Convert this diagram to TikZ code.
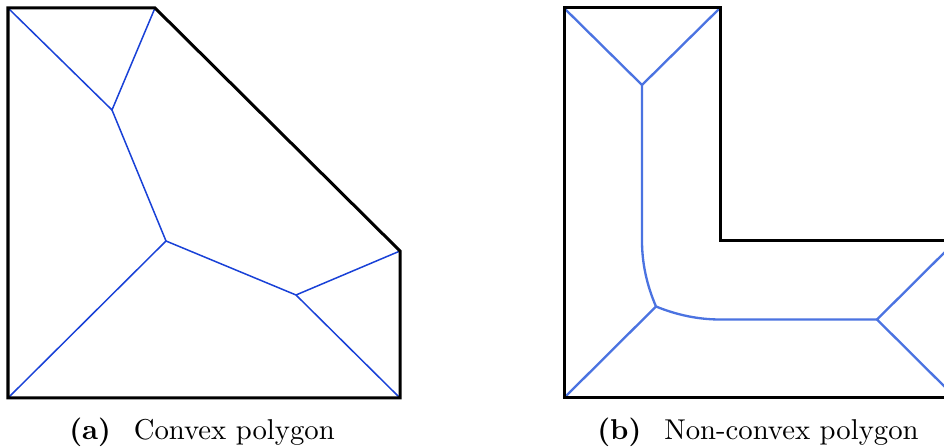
\documentclass[tikz,border=0pt]{standalone}
\usepackage{tikz}
\usetikzlibrary{calc}
\definecolor{skelblue}{RGB}{25,65,215}
\definecolor{skelsoft}{RGB}{75,115,225}
\tikzset{
  boundary/.style={draw=black,line width=1.1pt,line join=miter},
  skelA/.style={draw=skelblue,line width=0.55pt},
  skelB/.style={draw=skelsoft,line width=0.85pt},
  capnode/.style={anchor=base,font=\fontsize{10.5}{12}\selectfont,inner sep=0pt}
}

\begin{document}
\begin{tikzpicture}[x=0.366pt,y=-0.366pt]
  \useasboundingbox (0,0) rectangle (944,448);

  %% (a) CONVEX POLYGON
  \coordinate (a1) at (8,8);
  \coordinate (a2) at (155,8);
  \coordinate (a3) at (400,251);
  \coordinate (a4) at (400,398);
  \coordinate (a5) at (8,398);
  \coordinate (ja) at (112,110);
  \coordinate (jb) at (166,241);
  \coordinate (jc) at (296,295);

  \draw[skelA] (a1) -- (ja) -- (a2);
  \draw[skelA] (ja) -- (jb) -- (a5);
  \draw[skelA] (jb) -- (jc) -- (a3);
  \draw[skelA] (jc) -- (a4);
  \draw[boundary] (a1) -- (a2) -- (a3) -- (a4) -- (a5) -- cycle;

  \node[capnode] (capa) at (202,440) {\textbf{(a)}\hspace{0.8em}Convex polygon};

  %% (b) NON-CONVEX POLYGON
  \begin{scope}
    \clip (0,0) rectangle (944,448);
    \coordinate (b1) at (564,8);
    \coordinate (b2) at (720,8);
    \coordinate (b3) at (720,241);
    \coordinate (b4) at (956,241);
    \coordinate (b5) at (956,398);
    \coordinate (b6) at (564,398);
    \coordinate (ka) at (642,85);
    \coordinate (kb) at (642,241);
    \coordinate (kc) at (656,306.5);
    \coordinate (kd) at (720,319.5);
    \coordinate (ke) at (877,319.5);

    \draw[skelB] (b1) -- (ka) -- (b2);
    \draw[skelB] (ka) -- (kb)
      .. controls (642,263) and (646.7,285) .. (kc)
      .. controls (677.3,315.2) and (698.7,319.5) .. (kd) -- (ke);
    \draw[skelB] (kc) -- (b6);
    \draw[skelB] (b4) -- (ke) -- (b5);
    \draw[boundary] (b1) -- (b2) -- (b3) -- (b4) -- (b5) -- (b6) -- cycle;
  \end{scope}

  \node[capnode] (capb) at (758,440) {\textbf{(b)}\hspace{0.8em}Non-convex polygon};
\end{tikzpicture}
\end{document}
